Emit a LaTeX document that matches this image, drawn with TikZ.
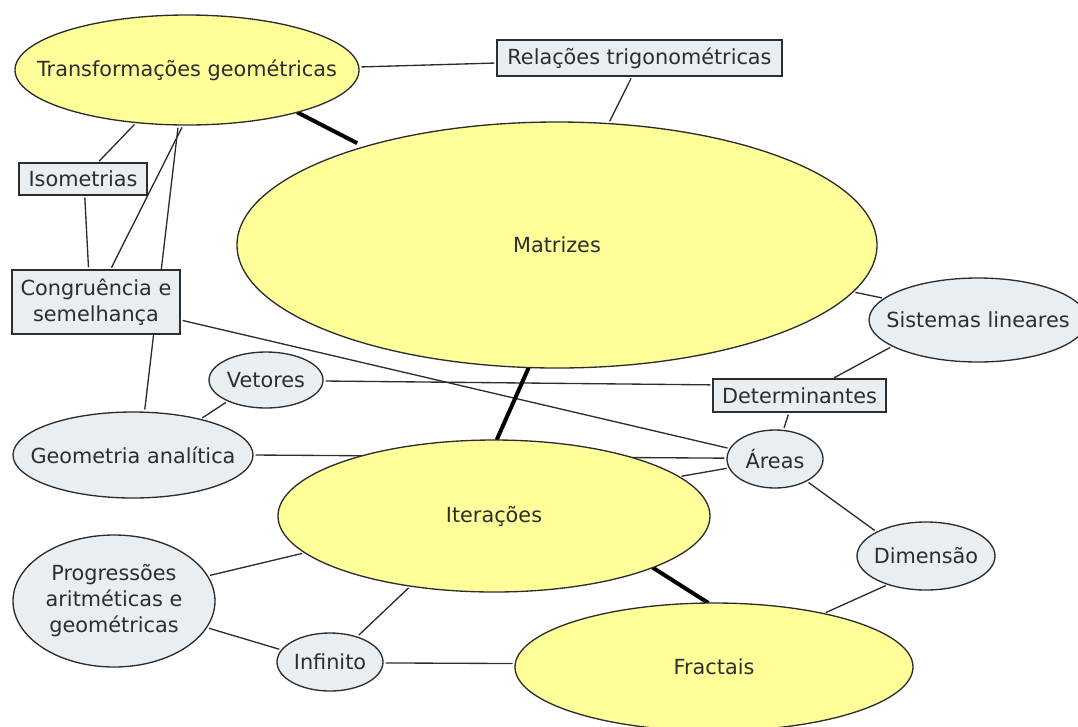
\documentclass[tikz,border=0pt]{standalone}
\usepackage{fontspec}
\setmainfont{DejaVu Sans}
\usetikzlibrary{shapes.geometric,backgrounds}
\definecolor{mapyellow}{RGB}{255,255,153}
\definecolor{mapgrey}{RGB}{232,238,242}
\definecolor{mapink}{RGB}{45,45,45}
\newcommand\nodetext[1]{\makebox[0pt]{#1}}
\tikzset{
  every node/.style={font=\fontsize{15.6}{19.5}\selectfont, text=mapink},
  yellowidea/.style 2 args={ellipse, draw=mapink, line width=1pt, fill=mapyellow,
    inner sep=0pt, outer sep=0pt, minimum width=#1*0.75pt, minimum height=#2*0.75pt},
  greyidea/.style 2 args={ellipse, draw=mapink, line width=1pt, fill=mapgrey,
    inner sep=0pt, outer sep=0pt, minimum width=#1*0.75pt, minimum height=#2*0.75pt},
  greybox/.style 2 args={rectangle, draw=mapink, line width=1pt, fill=mapgrey, align=center,
    inner sep=0pt, outer sep=0pt, minimum width=#1*0.75pt, minimum height=#2*0.75pt},
  maplink/.style={line width=1pt, draw=mapink, shorten <=2pt, shorten >=2pt},
  thicklink/.style={line width=3pt, draw=black}
}

\begin{document}
\begin{tikzpicture}[x=0.75pt, y=-0.75pt]
\useasboundingbox (0,0) rectangle (1078,726);
\clip (0,0) rectangle (1078,726);

\node[yellowidea={344}{110}] (trans) at (187,70) {\nodetext{Transformações geométricas}};
\node[greybox={285}{36}] (rel) at (639.5,58) {Relações trigonométricas};
\node[yellowidea={640}{246}] (mat) at (557,245) {\nodetext{Matrizes}};
\node[greybox={128}{32}] (iso) at (83,179) {Isometrias};
\node[greybox={168}{64}] (cong) at (96,302) {Congruência e\\semelhança};
\node[greyidea={114}{56}] (vet) at (266,380) {\nodetext{Vetores}};
\node[greyidea={240}{86}] (geo) at (133,455) {\nodetext{Geometria analítica}};
\node[greyidea={218}{84}] (sis) at (978,320) {\nodetext{Sistemas lineares}};
\node[greybox={173}{33}] (det) at (799.5,395.5) {Determinantes};
\node[greyidea={96}{58}] (areas) at (775,459) {\nodetext{Áreas}};
\node[yellowidea={432}{152}] (iter) at (494,516) {\nodetext{Iterações}};
\node[greyidea={138}{68}] (dim) at (926,556) {\nodetext{Dimensão}};
\node[yellowidea={398}{128}] (frac) at (714,667) {\nodetext{Fractais}};
\node[greyidea={202}{132}] (prog) at (114,601)
  {\nodetext{\begin{tabular}{@{}c@{}}Progressões\\aritméticas e\\geométricas\end{tabular}}};
\node[greyidea={106}{58}] (inf) at (330,662) {\nodetext{Infinito}};

\begin{scope}[on background layer]
  \draw[maplink] (trans.1) -- (rel.182);
  \draw[thicklink, shorten >=6pt] (trans.-21) -- (mat.153);
  \draw[maplink] (rel.-112) -- (mat.67);
  \draw[maplink] (trans.-134) -- (iso.48);
  \draw[maplink] (trans.-94) -- (cong.66);
  \draw[maplink] (trans.-99) -- (geo.75);
  \draw[maplink] (iso.-84) -- (cong.103);
  \draw[maplink] (cong.-12) -- (areas.167);
  \draw[maplink] (vet.-1) -- (det.173);
  \draw[maplink] (vet.-151) -- (geo.28);
  \draw[maplink] (geo.0) -- (areas.179);
  \draw[maplink] (mat.-9) -- (sis.167);
  \draw[maplink] (sis.-163) -- (det.27);
  \draw[maplink] (det.-122) -- (areas.74);
  \draw[thicklink] (mat.-103) -- (iter.88);
  \draw[maplink] (iter.12) -- (areas.-169);
  \draw[maplink] (areas.-35) -- (dim.154);
  \draw[maplink] (dim.-143) -- (frac.26);
  \draw[thicklink] (iter.-18) -- (frac.95);
  \draw[maplink] (iter.-169) -- (prog.15);
  \draw[maplink] (iter.-140) -- (inf.43);
  \draw[maplink] (prog.-16) -- (inf.166);
  \draw[maplink] (inf.-1) -- (frac.179);
\end{scope}
\end{tikzpicture}
\end{document}
